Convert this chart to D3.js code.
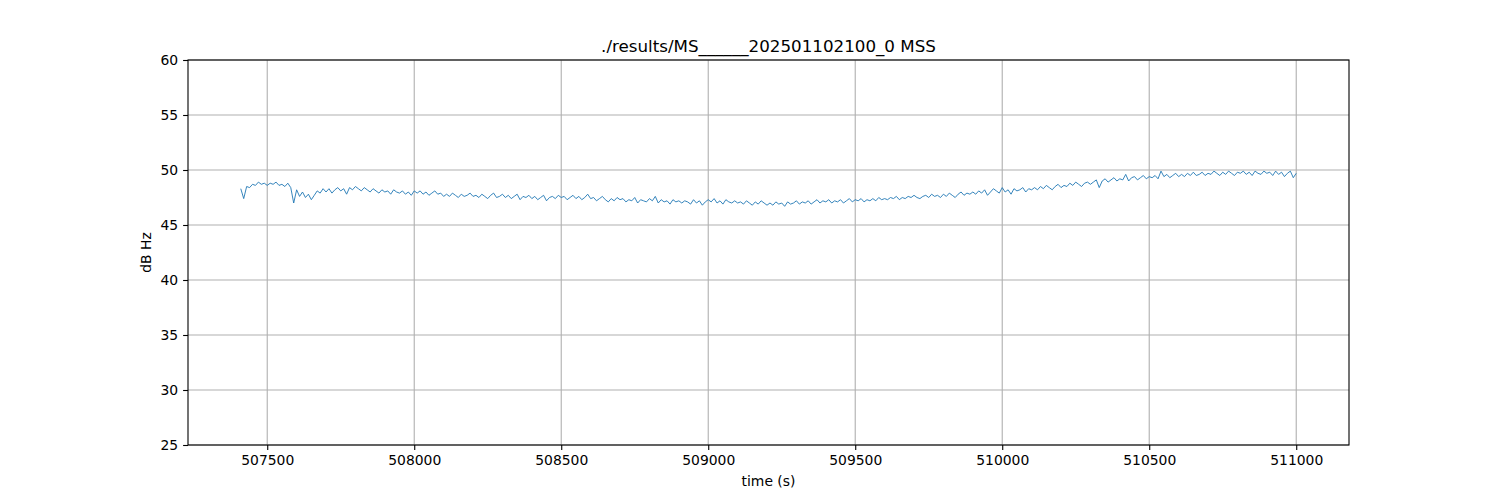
<!DOCTYPE html>
<html><head><meta charset="utf-8">
<script src="https://cdn.jsdelivr.net/npm/d3@7"></script>
<style>body{margin:0;background:#fff}svg{display:block}text{font-family:"DejaVu Sans",sans-serif}</style>
</head><body><svg id="c" width="1500" height="500"></svg>
<script>
const title = "./results/MS______202501102100_0 MSS";
const xLabel = "time (s)";
const yLabel = "dB Hz";
const xTicks = [507500, 508000, 508500, 509000, 509500, 510000, 510500, 511000];
const yTicks = [25, 30, 35, 40, 45, 50, 55, 60];
const tStart = 507410;
const tStep = 10;
const snr = [
48.3,47.4,48.5,48.4,48.7,48.6,48.9,48.7,48.8,48.6,48.8,48.7,48.9,48.6,48.7,48.5,48.8,48.4,47.0,48.2,
47.6,48.0,47.5,47.8,47.3,47.7,48.1,47.9,48.3,48.0,
48.3,47.9,48.2,48.4,48.1,48.3,47.8,48.4,48.2,48.5,
48.3,48.1,48.4,48.2,48.0,48.3,48.1,47.9,48.2,48.0,
48.1,47.8,48.2,48.0,47.9,48.1,47.8,48.0,47.7,48.1,
47.9,48.1,47.8,48.0,47.7,47.9,48.1,47.8,47.9,47.6,
47.8,47.6,47.9,47.7,47.5,47.8,47.6,47.7,47.9,47.6,
47.7,47.5,47.8,47.6,47.4,47.7,47.9,47.5,47.6,47.8,
47.5,47.7,47.4,47.6,47.8,47.3,47.6,47.5,47.7,47.4,
47.6,47.3,47.5,47.7,47.2,47.5,47.6,47.4,47.7,47.5,
47.6,47.3,47.5,47.7,47.4,47.6,47.3,47.5,47.8,47.4,
47.5,47.2,47.4,47.6,47.3,47.1,47.4,47.2,47.5,47.3,
47.4,47.1,47.3,47.2,47.5,47.0,47.3,47.2,47.1,47.4,
47.2,47.6,47.0,47.3,47.1,47.2,46.9,47.3,47.1,47.2,
47.0,47.2,47.1,46.9,47.3,47.0,47.2,46.8,47.1,47.3,
47.1,47.4,47.0,47.2,46.9,47.3,47.1,47.0,47.2,47.0,
47.1,46.9,47.2,47.0,46.8,47.1,46.9,47.2,47.0,46.8,
47.0,46.8,47.1,46.9,47.0,46.7,47.1,46.9,47.0,47.2,
46.9,47.1,47.0,47.2,46.9,47.1,47.3,47.0,47.2,47.1,
47.3,47.0,47.2,47.1,47.3,47.0,47.2,47.4,47.1,47.3,
47.2,47.4,47.1,47.3,47.2,47.4,47.2,47.5,47.3,47.4,
47.3,47.5,47.4,47.6,47.3,47.5,47.4,47.6,47.5,47.7,
47.5,47.4,47.6,47.7,47.5,47.8,47.6,47.7,47.5,47.8,
47.6,47.9,47.7,47.5,47.8,48.0,47.7,47.9,47.8,48.0,
47.8,48.1,47.9,48.2,47.7,48.0,48.3,48.1,47.9,48.4,
48.0,48.2,47.8,48.3,48.1,48.2,48.4,48.0,48.3,48.2,
48.4,48.2,48.5,48.3,48.6,48.4,48.2,48.5,48.7,48.4,
48.6,48.5,48.8,48.6,48.9,48.7,48.5,48.8,48.9,48.7,
48.9,49.1,48.4,49.0,49.2,48.9,49.1,49.3,49.0,49.2,
49.1,49.6,49.0,49.3,49.4,49.1,49.3,49.5,49.2,49.4,
49.3,49.5,49.2,49.9,49.4,49.6,49.3,49.5,49.7,49.4,
49.6,49.4,49.7,49.5,49.8,49.5,49.6,49.8,49.5,49.7,
49.6,49.9,49.7,49.5,49.8,49.6,49.9,49.7,49.5,49.8,
49.7,49.9,49.6,49.8,49.5,49.9,49.7,49.6,49.9,49.7,
49.8,49.5,49.9,49.6,49.8,49.4,49.7,49.9,49.3,49.7
];
const data = snr.map((v,i)=>({t:tStart+i*tStep, v}));

const svg = d3.select("#c");
const m = {l:188, r:1349, t:60, b:445};
const tExt = d3.extent(data, d=>d.t);
const pad = (tExt[1]-tExt[0])*0.05;
const x = d3.scaleLinear().domain([tExt[0]-pad, tExt[1]+pad]).range([m.l, m.r]);
const y = d3.scaleLinear().domain([25, 60]).range([m.b, m.t]);

// grid
const g = svg.append("g");
g.selectAll(".vx").data(xTicks).join("line")
  .attr("x1", d=>x(d)).attr("x2", d=>x(d)).attr("y1", m.t).attr("y2", m.b)
  .attr("stroke", "#b0b0b0").attr("stroke-width", 1.1);
g.selectAll(".hy").data(yTicks).join("line")
  .attr("y1", d=>y(d)).attr("y2", d=>y(d)).attr("x1", m.l).attr("x2", m.r)
  .attr("stroke", "#b0b0b0").attr("stroke-width", 1.1);

// line
svg.append("path").datum(data)
  .attr("fill", "none").attr("stroke", "#1f77b4").attr("stroke-width", 0.9)
  .attr("stroke-linejoin", "round")
  .attr("d", d3.line().x(d=>x(d.t)).y(d=>y(d.v)));

// axes
const xa = svg.append("g").attr("transform", `translate(0,${m.b})`)
  .call(d3.axisBottom(x).tickValues(xTicks).tickFormat(d3.format("d")).tickSize(4.9).tickPadding(4.9));
const ya = svg.append("g").attr("transform", `translate(${m.l},0)`)
  .call(d3.axisLeft(y).tickValues(yTicks).tickFormat(d3.format("d")).tickSize(4.9).tickPadding(4.9));
[xa, ya].forEach(a=>{
  a.select(".domain").remove();
  a.selectAll("line").attr("stroke", "#000").attr("stroke-width", 1.1);
  a.selectAll("text").attr("fill", "#000").style("font-size", "13.9px").style("font-family", '"DejaVu Sans", sans-serif');
});
// spines
svg.append("rect").attr("x", m.l).attr("y", m.t).attr("width", m.r-m.l).attr("height", m.b-m.t)
  .attr("fill", "none").attr("stroke", "#000").attr("stroke-width", 1.1);

svg.append("text").attr("x", (m.l+m.r)/2).attr("y", 52).attr("text-anchor", "middle")
  .style("font-size", "16.7px").text(title);
svg.append("text").attr("x", (m.l+m.r)/2).attr("y", 486).attr("text-anchor", "middle")
  .style("font-size", "13.9px").text(xLabel);
svg.append("text").attr("transform", `translate(151,${(m.t+m.b)/2}) rotate(-90)`).attr("text-anchor", "middle")
  .style("font-size", "13.9px").text(yLabel);
</script></body></html>
